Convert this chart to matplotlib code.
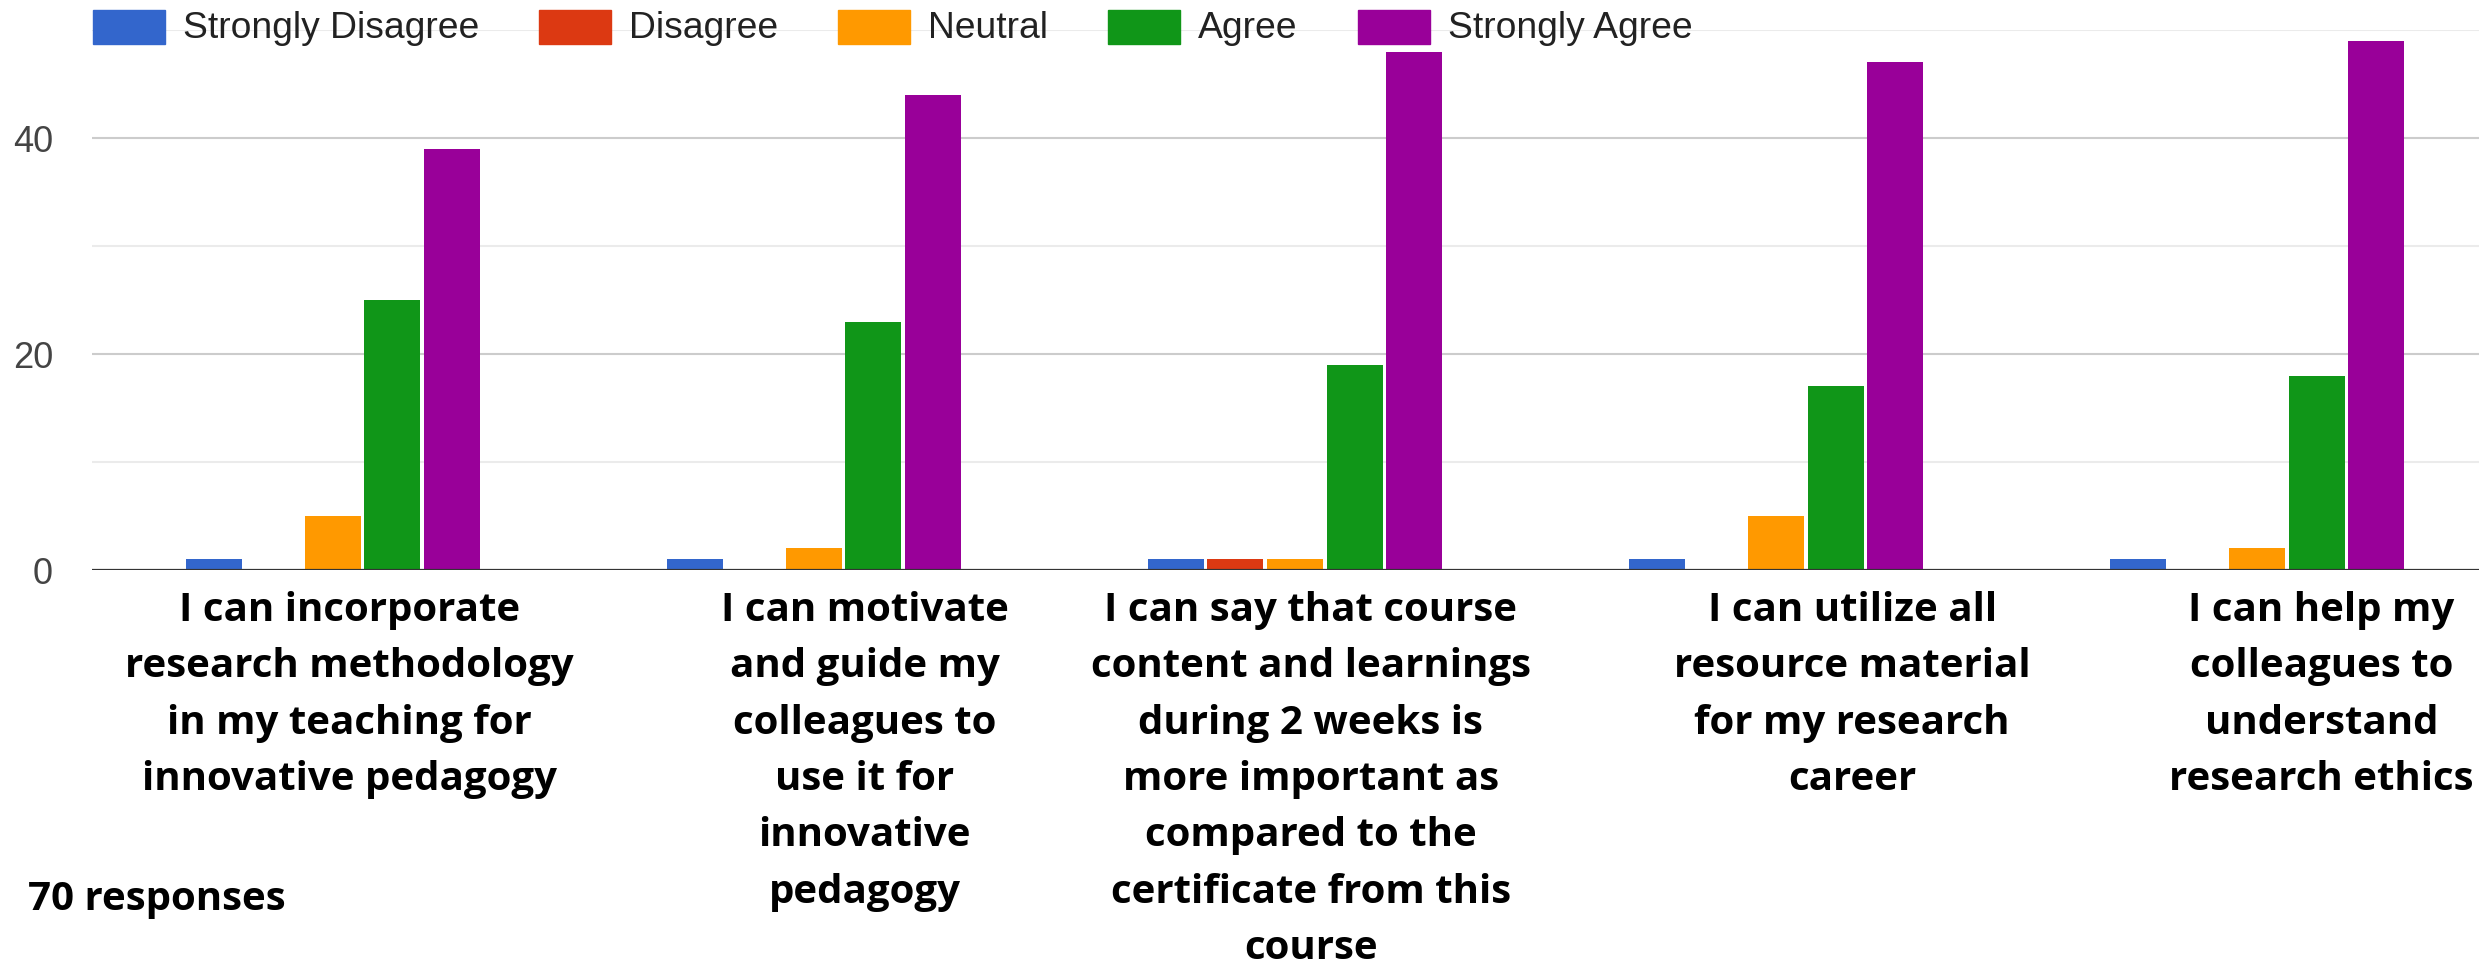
""" Survey response bar chart """
import numpy as np
import matplotlib
matplotlib.use("Agg")
import matplotlib.pyplot as plt
from matplotlib.patches import Rectangle

series = ["Strongly Disagree", "Disagree", "Neutral", "Agree", "Strongly Agree"]
colors = ["#3366cc", "#dc3912", "#ff9900", "#109618", "#990099"]

questions = [
    "I can incorporate\nresearch methodology\nin my teaching for\ninnovative pedagogy",
    "I can motivate\nand guide my\ncolleagues to\nuse it for\ninnovative\npedagogy",
    "I can say that course\ncontent and learnings\nduring 2 weeks is\nmore important as\ncompared to the\ncertificate from this\ncourse",
    "I can utilize all\nresource material\nfor my research\ncareer",
    "I can help my\ncolleagues to\nunderstand\nresearch ethics",
]

strongly_disagree = [1, 1, 1, 1, 1]
disagree = [0, 0, 1, 0, 0]
neutral = [5, 2, 1, 5, 2]
agree = [25, 23, 19, 17, 18]
strongly_agree = [39, 44, 48, 47, 49]

responses_note = "70 responses"

# label centres are a bit right of the bar groups in the original
label_shift = [0.035, 0.106, 0.033, 0.158, 0.133]

W, H = 2479, 971
fig = plt.figure(figsize=(W / 100, H / 100), dpi=100)
ax = fig.add_axes([92 / W, (H - 570) / H, (2498 - 92) / W, 540 / H])

values = [strongly_disagree, disagree, neutral, agree, strongly_agree]
x = np.arange(len(questions))
step = 0.1237
width = 0.1164
for i, (vals, color) in enumerate(zip(values, colors)):
    ax.bar(x + (i - 2) * step, vals, width, color=color, zorder=2)

ax.set_xlim(-0.5, 4.5)
ax.set_ylim(0, 50)
ax.set_yticks([0, 20, 40])
ax.set_yticks([10, 30, 50], minor=True)
ax.grid(axis="y", which="major", color="#cccccc", linewidth=1.5, zorder=0)
ax.grid(axis="y", which="minor", color="#ebebeb", linewidth=1.5, zorder=0)
ax.axhline(0, color="#333333", linewidth=2.3, zorder=3)
for s in ax.spines.values():
    s.set_visible(False)
ax.tick_params(axis="y", which="both", length=0, pad=28, labelsize=26,
               labelcolor="#444444")
for lbl in ax.get_yticklabels():
    lbl.set_fontfamily("Liberation Sans")

ax.set_xticks(x + np.array(label_shift))
ax.set_xticklabels(questions, fontfamily="Open Sans", fontweight="bold",
                   fontsize=29, linespacing=1.58, color="black")
ax.tick_params(axis="x", length=0, pad=15)

# legend drawn by hand along the top gridline
renderer = fig.canvas.get_renderer()
lx = 93
for name, color in zip(series, colors):
    fig.patches.append(Rectangle((lx / W, 1 - 44 / H), 72 / W, 34 / H,
                                 transform=fig.transFigure, color=color, zorder=3))
    t = fig.text((lx + 90) / W, 1 - 28 / H, name, va="center", ha="left",
                 fontsize=26.8, fontfamily="Liberation Sans", color="#222222")
    w = t.get_window_extent(renderer).width
    lx = lx + 90 + w + 60

fig.text(28 / W, 1 - 910 / H, responses_note, va="baseline", ha="left",
         fontsize=29, fontfamily="Open Sans", fontweight="bold", color="black")

fig.savefig("out.png", dpi=100)
